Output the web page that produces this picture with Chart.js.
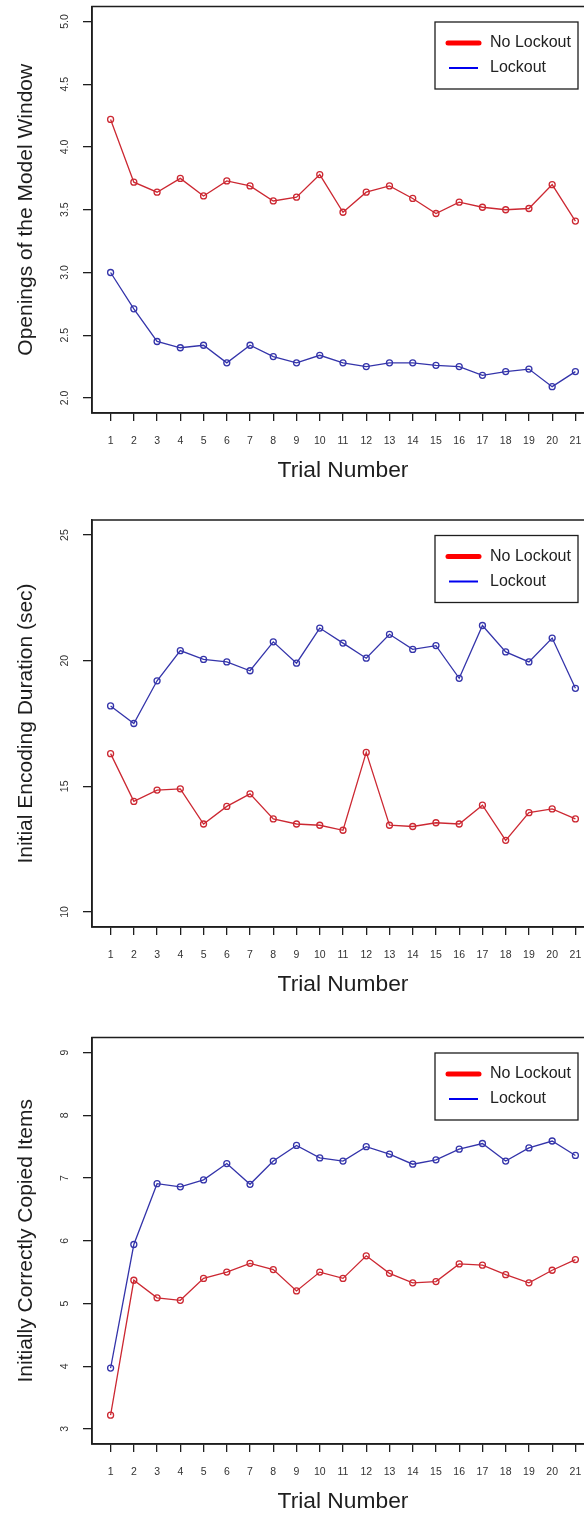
<!DOCTYPE html>
<html>
<head>
<meta charset="utf-8">
<script src="https://cdn.jsdelivr.net/npm/chart.js@4.4.1/dist/chart.umd.min.js"></script>
<style>
  html, body { margin: 0; padding: 0; background: #ffffff; }
  body { width: 584px; height: 1514px; overflow: hidden; position: relative; }
  .panel { position: absolute; left: 0; }
</style>
</head>
<body>
<div class="panel" style="top:0px"><canvas id="chartOpen" width="620" height="500"></canvas></div>
<div class="panel" style="top:505px"><canvas id="chartEnc" width="620" height="509"></canvas></div>
<div class="panel" style="top:1010px"><canvas id="chartCopy" width="620" height="521"></canvas></div>
<script>
    // ----------- DATA -------------
    const trials = [1, 2, 3, 4, 5, 6, 7, 8, 9, 10, 11, 12, 13, 14, 15, 16, 17, 18, 19, 20, 21];

    // Openings of the Model Window
    const openNoLockout = [4.22, 3.72, 3.64, 3.75, 3.61, 3.73, 3.69, 3.57, 3.60, 3.78, 3.48,
                           3.64, 3.69, 3.59, 3.47, 3.56, 3.52, 3.50, 3.51, 3.70, 3.41];
    const openLockout = [3.00, 2.71, 2.45, 2.40, 2.42, 2.28, 2.42, 2.33, 2.28, 2.34, 2.28,
                         2.25, 2.28, 2.28, 2.26, 2.25, 2.18, 2.21, 2.23, 2.09, 2.21];
    const openTicks = [2.0, 2.5, 3.0, 3.5, 4.0, 4.5, 5.0];

    // Initial Encoding Duration (sec)
    const encNoLockout = [16.3, 14.4, 14.85, 14.9, 13.5, 14.2, 14.7, 13.7, 13.5, 13.45, 13.25,
                          16.35, 13.45, 13.4, 13.55, 13.5, 14.25, 12.85, 13.95, 14.1, 13.7];
    const encLockout = [18.2, 17.5, 19.2, 20.4, 20.05, 19.95, 19.6, 20.75, 19.9, 21.3, 20.7,
                        20.1, 21.05, 20.45, 20.6, 19.3, 21.4, 20.35, 19.95, 20.9, 18.9];
    const encTicks = [10, 15, 20, 25];

    // Initially Correctly Copied Items
    const copyNoLockout = [3.22, 5.37, 5.09, 5.05, 5.40, 5.50, 5.64, 5.54, 5.20, 5.50, 5.40,
                           5.76, 5.48, 5.33, 5.35, 5.63, 5.61, 5.46, 5.33, 5.53, 5.70];
    const copyLockout = [3.97, 5.94, 6.91, 6.86, 6.97, 7.23, 6.90, 7.27, 7.52, 7.32, 7.27,
                         7.50, 7.38, 7.22, 7.29, 7.46, 7.55, 7.27, 7.48, 7.59, 7.36];
    const copyTicks = [3, 4, 5, 6, 7, 8, 9];

    const seriesLabels = ['No Lockout', 'Lockout'];

    // ----------- STYLE -------------
    const FONT = "'Liberation Sans', Arial, sans-serif";
    const RED = '#cc2832';
    const BLUE = '#3434aa';
    const INK = '#1e1e1e';

    // frame round the plot area (R "box")
    const boxPlugin = {
        id: 'plotBox',
        afterDraw(chart) {
            const a = chart.chartArea;
            const ctx = chart.ctx;
            ctx.save();
            ctx.strokeStyle = INK;
            ctx.lineWidth = 1.5;
            ctx.strokeRect(a.left, a.top, a.right - a.left, a.bottom - a.top);
            ctx.restore();
        }
    };

    // R style legend, top right, with a border
    const legendPlugin = {
        id: 'rLegend',
        afterDraw(chart) {
            const a = chart.chartArea;
            const ctx = chart.ctx;
            const w = 143, h = 67;
            const x = a.right - 16 - w;
            const y = a.top + 15.5;
            ctx.save();
            ctx.fillStyle = '#ffffff';
            ctx.fillRect(x, y, w, h);
            ctx.strokeStyle = INK;
            ctx.lineWidth = 1.3;
            ctx.strokeRect(x, y, w, h);
            // swatches
            ctx.lineCap = 'round';
            ctx.strokeStyle = '#ff0000';
            ctx.lineWidth = 5;
            ctx.beginPath(); ctx.moveTo(x + 13, y + 21); ctx.lineTo(x + 44, y + 21); ctx.stroke();
            ctx.lineCap = 'butt';
            ctx.strokeStyle = '#0000ee';
            ctx.lineWidth = 2;
            ctx.beginPath(); ctx.moveTo(x + 14, y + 46); ctx.lineTo(x + 43, y + 46); ctx.stroke();
            // labels
            ctx.fillStyle = '#222222';
            ctx.font = '16px ' + FONT;
            ctx.textBaseline = 'middle';
            ctx.textAlign = 'left';
            ctx.fillText(chart.data.datasets[0].label, x + 55, y + 21);
            ctx.fillText(chart.data.datasets[1].label, x + 55, y + 46);
            ctx.restore();
        }
    };

    // ----------- CONFIG -------------
    function makeConfig(noLock, lock, yTicks, yTitle, yPad, padTop, fmt) {
        const span = yTicks[yTicks.length - 1] - yTicks[0];
        return {
            type: 'line',
            data: {
                labels: trials,
                datasets: [
                    {
                        label: seriesLabels[0],
                        data: trials.map((t, i) => ({x: t, y: noLock[i]})),
                        borderColor: RED,
                        borderWidth: 1.3,
                        pointRadius: 3,
                        pointBorderWidth: 1.3,
                        pointBorderColor: RED,
                        pointBackgroundColor: 'rgba(255,255,255,0)',
                        tension: 0
                    },
                    {
                        label: seriesLabels[1],
                        data: trials.map((t, i) => ({x: t, y: lock[i]})),
                        borderColor: BLUE,
                        borderWidth: 1.3,
                        pointRadius: 3,
                        pointBorderWidth: 1.3,
                        pointBorderColor: BLUE,
                        pointBackgroundColor: 'rgba(255,255,255,0)',
                        tension: 0
                    }
                ]
            },
            options: {
                responsive: false,
                animation: false,
                layout: { padding: { top: padTop, left: 0, right: 26, bottom: 0 } },
                scales: {
                    x: {
                        type: 'linear',
                        min: 0.2,
                        max: 21.8,
                        afterBuildTicks: s => { s.ticks = trials.map(v => ({ value: v })); },
                        afterFit: s => { s.height = 87; s.paddingLeft = 0; s.paddingRight = 0; },
                        grid: { drawOnChartArea: false, drawTicks: true, tickLength: 8, color: INK, lineWidth: 1.3 },
                        border: { display: true, color: INK, width: 1.5 },
                        ticks: {
                            padding: 14,
                            color: '#333333',
                            autoSkip: false,
                            maxRotation: 0,
                            font: { family: FONT, size: 10.5 },
                            callback: v => String(v)
                        },
                        title: {
                            display: true,
                            text: 'Trial Number',
                            color: INK,
                            padding: { top: 0, bottom: 16 },
                            font: { family: FONT, size: 22.8 }
                        }
                    },
                    y: {
                        type: 'linear',
                        min: yTicks[0] - 0.04 * span,
                        max: yTicks[yTicks.length - 1] + 0.04 * span,
                        afterBuildTicks: s => { s.ticks = yTicks.map(v => ({ value: v })); },
                        afterFit: s => { s.width = 92; s.paddingTop = 0; s.paddingBottom = 0; },
                        grid: { drawOnChartArea: false, drawTicks: true, tickLength: 9, color: INK, lineWidth: 1.3 },
                        border: { display: true, color: INK, width: 1.5 },
                        ticks: {
                            padding: yPad,
                            color: '#333333',
                            minRotation: 90,
                            maxRotation: 90,
                            crossAlign: 'center',
                            font: { family: FONT, size: 10.5 },
                            callback: fmt
                        },
                        title: {
                            display: true,
                            text: yTitle,
                            color: INK,
                            padding: { top: 14, bottom: 0 },
                            font: { family: FONT, size: 21 }
                        }
                    }
                },
                plugins: {
                    legend: { display: false },
                    tooltip: { enabled: false }
                }
            },
            plugins: [boxPlugin, legendPlugin]
        };
    }

    // ----------- RENDER -------------
    const chartOpen = new Chart(
        document.getElementById('chartOpen').getContext('2d'),
        makeConfig(openNoLockout, openLockout, openTicks, 'Openings of the Model Window', 10.5, 6.5, v => v.toFixed(1))
    );
    const chartEnc = new Chart(
        document.getElementById('chartEnc').getContext('2d'),
        makeConfig(encNoLockout, encLockout, encTicks, 'Initial Encoding Duration (sec)', 12, 15, v => String(v))
    );
    const chartCopy = new Chart(
        document.getElementById('chartCopy').getContext('2d'),
        makeConfig(copyNoLockout, copyLockout, copyTicks, 'Initially Correctly Copied Items', 15, 27.5, v => String(v))
    );
</script>
</body>
</html>
